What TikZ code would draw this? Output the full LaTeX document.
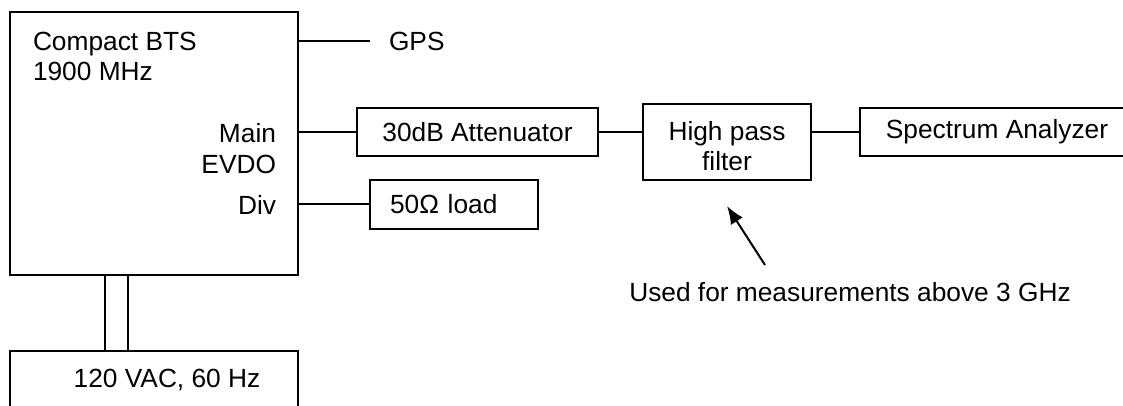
\documentclass[tikz,border=0pt]{standalone}
\usepackage{fontspec}
\setmainfont{Liberation Sans}
\usetikzlibrary{arrows.meta}
\tikzset{
  blk/.style={draw, line width=1pt, inner sep=0pt, align=center},
  lbl/.style={inner sep=0pt, align=left},
}
\newcommand{\lowered}[1]{\raisebox{-2pt}[\height][\depth]{#1}}
\begin{document}
\begin{tikzpicture}[x=0.5pt, y=-0.5pt, line width=1pt,
    font=\fontsize{13.15}{15.25}\selectfont]
  \useasboundingbox (0,0) rectangle (1123,406);

  \node[blk, minimum width=144pt, minimum height=131.25pt] (bts) at (153.5,143.75) {};
  \node[lbl, anchor=west] (btsname) at (32,56.5) {Compact BTS\\1900 MHz};
  \node[lbl, anchor=east] (main) at (277,133) {Main};
  \node[lbl, anchor=east] (evdo) at (277,164) {EVDO};
  \node[lbl, anchor=east] (div) at (277,205) {Div};
  \node[lbl, anchor=west, inner xsep=9pt] (gps) at (370,41) {GPS};

  \node[blk, minimum width=120.5pt, minimum height=24pt] (att) at (477.5,132) {30dB Attenuator};
  \node[blk, minimum height=24.5pt, text width=64pt, inner xsep=10pt, align=left] (load) at (454,204.5) {50Ω load};
  \node[blk, minimum width=84pt, minimum height=38pt] (hpf) at (727,142) {\lowered{High pass}\\\lowered{filter}};
  \node[blk, minimum width=137pt, minimum height=24pt] (sa) at (997,132) {Spectrum Analyzer};
  \node[blk, minimum width=144pt, minimum height=30.5pt] (pwr) at (153.5,381.5) {};
  \node[lbl] (pwrname) at (167,380) {120 VAC, 60 Hz};
  \node[lbl] (note) at (850,292) {Used for measurements above 3 GHz};
  \coordinate (tip) at (727,206);
  \coordinate (tail) at (765,265);

  \draw (bts.east |- gps.west) -- (gps.west);
  \draw (bts.east |- att.west) -- (att.west);
  \draw (bts.east |- load.west) -- (load.west);
  \draw (att.east) -- (att.east -| hpf.west);
  \draw (hpf.east |- sa.west) -- (sa.west);
  \draw ([xshift=48.25pt]bts.south west) -- ([xshift=48.25pt]pwr.north west);
  \draw ([xshift=59.75pt]bts.south west) -- ([xshift=59.75pt]pwr.north west);
  \draw[-{Latex[length=9pt,width=7pt]}] (tail) -- (tip);
\end{tikzpicture}
\end{document}
